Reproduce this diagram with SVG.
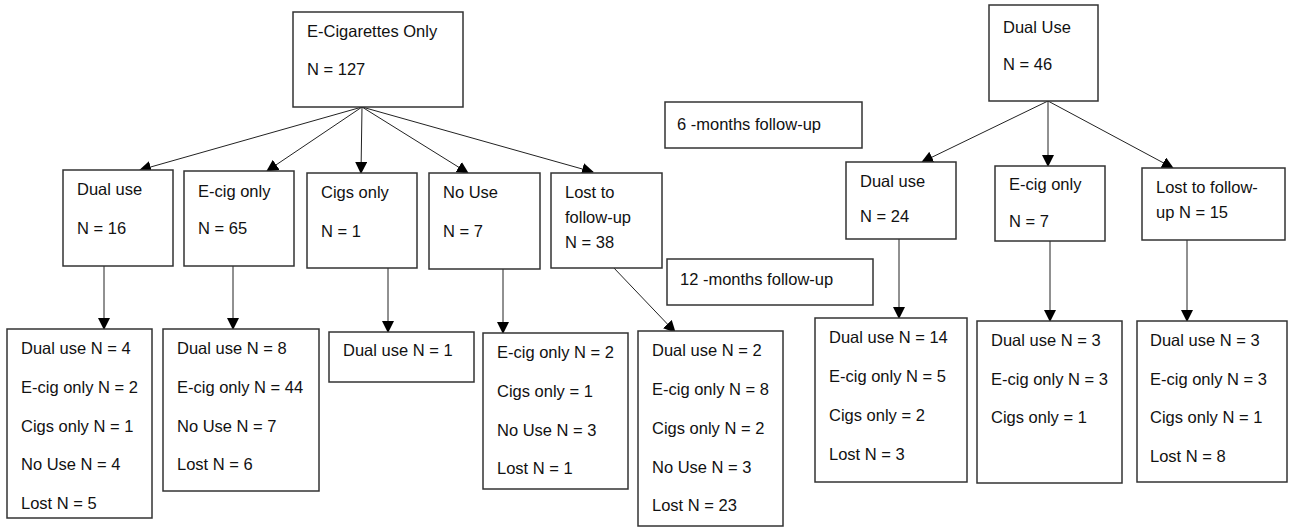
<svg xmlns="http://www.w3.org/2000/svg" width="1290" height="529" viewBox="0 0 1290 529">
<defs>
<marker id="arr" markerUnits="userSpaceOnUse" markerWidth="12" markerHeight="12" refX="11" refY="6" orient="auto">
<path d="M0,0 L12,6 L0,12 z" fill="#000"/>
</marker>
<style>
.box{fill:#fff;stroke:#333;stroke-width:1.5}
.t{font-family:"Liberation Sans",Arial,sans-serif;font-size:16.5px;fill:#111}
.c{stroke:#222;stroke-width:1;fill:none;marker-end:url(#arr)}
</style>
</defs>
<rect width="1290" height="529" fill="#fff"/>

<g id="connectors">
<line class="c" x1="362" y1="107" x2="140" y2="170"/>
<line class="c" x1="362" y1="107" x2="267" y2="171"/>
<line class="c" x1="362" y1="107" x2="361" y2="173"/>
<line class="c" x1="362" y1="107" x2="468" y2="173"/>
<line class="c" x1="362" y1="107" x2="593" y2="172"/>
<line class="c" x1="104" y1="266" x2="104" y2="329"/>
<line class="c" x1="233" y1="266" x2="233" y2="329"/>
<line class="c" x1="388" y1="268" x2="388" y2="332"/>
<line class="c" x1="503" y1="269" x2="503" y2="333"/>
<line class="c" x1="613" y1="267" x2="675" y2="332"/>
<line class="c" x1="1048" y1="101" x2="922" y2="162"/>
<line class="c" x1="1048" y1="101" x2="1048" y2="166"/>
<line class="c" x1="1048" y1="101" x2="1173" y2="168"/>
<line class="c" x1="899" y1="239" x2="899" y2="318"/>
<line class="c" x1="1050" y1="241" x2="1050" y2="321"/>
<line class="c" x1="1187" y1="240" x2="1187" y2="321"/>
</g>

<g id="ecig-root">
<rect class="box" x="293" y="12" width="170" height="95"/>
<text class="t" x="307" y="37">E-Cigarettes Only</text>
<text class="t" x="307" y="75">N = 127</text>
</g>

<g id="label-6m">
<rect class="box" x="665" y="102" width="197" height="46"/>
<text class="t" x="677" y="130">6 -months follow-up</text>
</g>

<g id="label-12m">
<rect class="box" x="667" y="259" width="206" height="46"/>
<text class="t" x="680" y="285">12 -months follow-up</text>
</g>

<g id="dual-root">
<rect class="box" x="989" y="5" width="109" height="96"/>
<text class="t" x="1003" y="33">Dual Use</text>
<text class="t" x="1003" y="70">N = 46</text>
</g>

<g id="e6-dual">
<rect class="box" x="63" y="170" width="110" height="96"/>
<text class="t" x="77" y="195">Dual use</text>
<text class="t" x="77" y="234">N = 16</text>
</g>
<g id="e6-ecig">
<rect class="box" x="184" y="171" width="110" height="95"/>
<text class="t" x="198" y="197">E-cig only</text>
<text class="t" x="198" y="234">N = 65</text>
</g>
<g id="e6-cigs">
<rect class="box" x="307" y="173" width="110" height="95"/>
<text class="t" x="321" y="198">Cigs only</text>
<text class="t" x="321" y="237">N = 1</text>
</g>
<g id="e6-nouse">
<rect class="box" x="429" y="173" width="111" height="96"/>
<text class="t" x="443" y="198">No Use</text>
<text class="t" x="443" y="237">N = 7</text>
</g>
<g id="e6-lost">
<rect class="box" x="551" y="173" width="111" height="95"/>
<text class="t" x="565" y="198">Lost to</text>
<text class="t" x="565" y="223">follow-up</text>
<text class="t" x="565" y="248">N = 38</text>
</g>

<g id="e12-dual">
<rect class="box" x="7" y="329" width="145" height="189"/>
<text class="t" x="21" y="354">Dual use N = 4</text>
<text class="t" x="21" y="393">E-cig only N = 2</text>
<text class="t" x="21" y="432">Cigs only N = 1</text>
<text class="t" x="21" y="470">No Use N = 4</text>
<text class="t" x="21" y="509">Lost N = 5</text>
</g>
<g id="e12-ecig">
<rect class="box" x="163" y="329" width="156" height="162"/>
<text class="t" x="177" y="354">Dual use N = 8</text>
<text class="t" x="177" y="393">E-cig only N = 44</text>
<text class="t" x="177" y="432">No Use N = 7</text>
<text class="t" x="177" y="470">Lost N = 6</text>
</g>
<g id="e12-cigs">
<rect class="box" x="329" y="332" width="145" height="50"/>
<text class="t" x="343" y="356">Dual use N = 1</text>
</g>
<g id="e12-nouse">
<rect class="box" x="483" y="333" width="145" height="156"/>
<text class="t" x="497" y="358">E-cig only N = 2</text>
<text class="t" x="497" y="397">Cigs only = 1</text>
<text class="t" x="497" y="436">No Use N = 3</text>
<text class="t" x="497" y="474">Lost N = 1</text>
</g>
<g id="e12-lost">
<rect class="box" x="638" y="331" width="145" height="195"/>
<text class="t" x="652" y="356">Dual use N = 2</text>
<text class="t" x="652" y="395">E-cig only N = 8</text>
<text class="t" x="652" y="434">Cigs only N = 2</text>
<text class="t" x="652" y="473">No Use N = 3</text>
<text class="t" x="652" y="511">Lost N = 23</text>
</g>

<g id="d6-dual">
<rect class="box" x="846" y="162" width="110" height="77"/>
<text class="t" x="860" y="187">Dual use</text>
<text class="t" x="860" y="222">N = 24</text>
</g>
<g id="d6-ecig">
<rect class="box" x="995" y="166" width="110" height="75"/>
<text class="t" x="1009" y="190">E-cig only</text>
<text class="t" x="1009" y="227">N = 7</text>
</g>
<g id="d6-lost">
<rect class="box" x="1142" y="168" width="143" height="72"/>
<text class="t" x="1156" y="193">Lost to follow-</text>
<text class="t" x="1156" y="218">up N = 15</text>
</g>

<g id="d12-dual">
<rect class="box" x="815" y="318" width="152" height="164"/>
<text class="t" x="829" y="343">Dual use N = 14</text>
<text class="t" x="829" y="382">E-cig only N = 5</text>
<text class="t" x="829" y="421">Cigs only = 2</text>
<text class="t" x="829" y="460">Lost N = 3</text>
</g>
<g id="d12-ecig">
<rect class="box" x="977" y="321" width="145" height="162"/>
<text class="t" x="991" y="346">Dual use N = 3</text>
<text class="t" x="991" y="385">E-cig only N = 3</text>
<text class="t" x="991" y="423">Cigs only = 1</text>
</g>
<g id="d12-lost">
<rect class="box" x="1137" y="321" width="150" height="161"/>
<text class="t" x="1150" y="346">Dual use N = 3</text>
<text class="t" x="1150" y="385">E-cig only N = 3</text>
<text class="t" x="1150" y="423">Cigs only N = 1</text>
<text class="t" x="1150" y="462">Lost N = 8</text>
</g>
</svg>
